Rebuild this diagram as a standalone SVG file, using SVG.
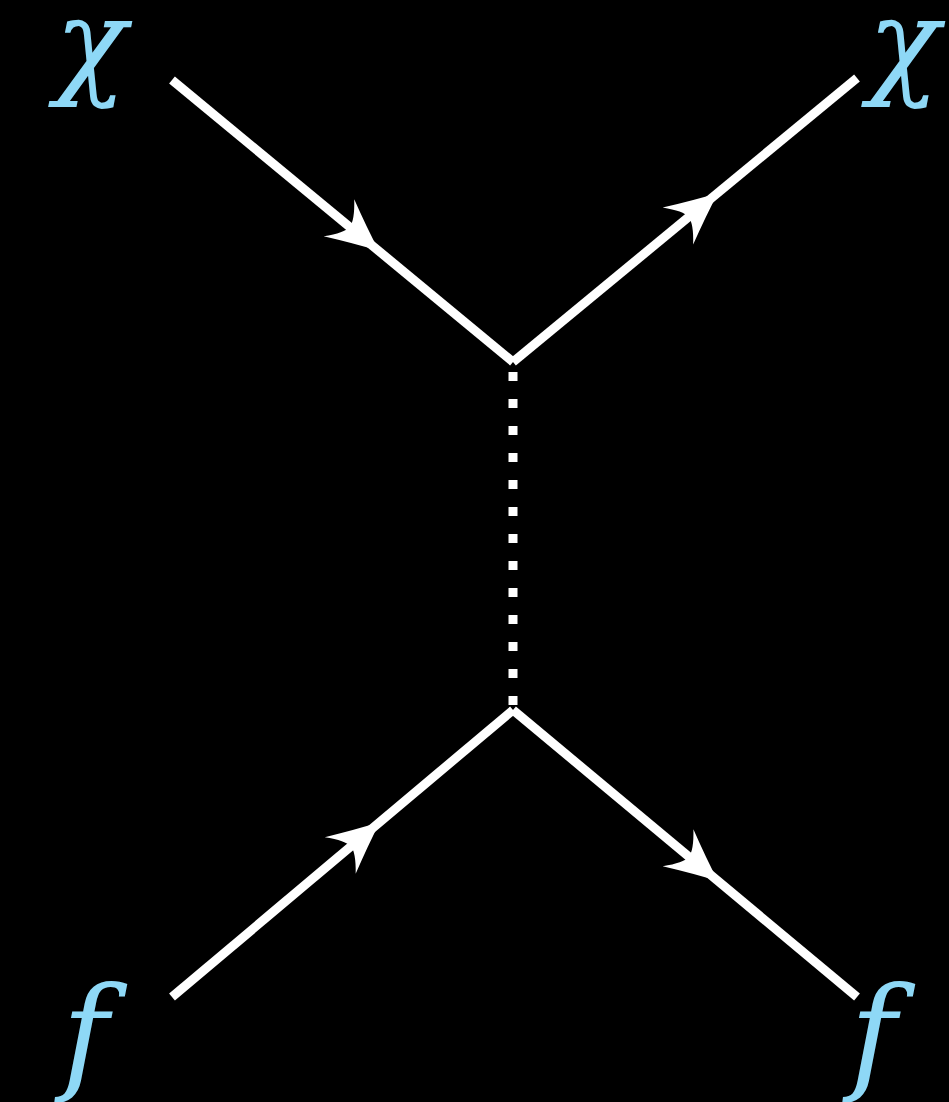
<svg xmlns="http://www.w3.org/2000/svg" width="949" height="1102" viewBox="0 0 949 1102">
<style>
.line{stroke:#fff;stroke-width:9;fill:none;stroke-linecap:butt}
.dot{stroke:#fff;stroke-width:9;fill:none;stroke-dasharray:9 18}
.arr{fill:#fff}
.lbl{font-family:"DejaVu Serif",serif;font-style:italic;fill:#8ED8F6}
.chi{font-size:118px}
.ef{font-size:126px}
</style>
<defs>
<path id="ah" d="M0,0 Q-24,-10 -52,-24 Q-38,-8 -38,0 Q-38,8 -52,24 Q-24,10 0,0 Z"/>
</defs>
<rect x="0" y="0" width="949" height="1102" fill="#000"/>
<g id="connectors">
<line class="line" x1="172" y1="80" x2="513" y2="362"/>
<line class="line" x1="513" y1="362" x2="857" y2="78"/>
<line class="line" x1="172" y1="997" x2="513" y2="710"/>
<line class="line" x1="513" y1="710" x2="857" y2="997"/>
<line class="dot" x1="513" y1="372" x2="513" y2="712"/>
<use class="arr" href="#ah" transform="translate(379,251) rotate(39.6)"/>
<use class="arr" href="#ah" transform="translate(718,193) rotate(-39.5)"/>
<use class="arr" href="#ah" transform="translate(380,822) rotate(-40.1)"/>
<use class="arr" href="#ah" transform="translate(718,881) rotate(39.8)"/>
</g>
<g id="chi-in"><text class="lbl chi" x="55" y="82">χ</text></g>
<g id="chi-out"><text class="lbl chi" x="868" y="82">χ</text></g>
<g id="f-in"><text class="lbl ef" x="62" y="1077">f</text></g>
<g id="f-out"><text class="lbl ef" x="850" y="1077">f</text></g>
</svg>
